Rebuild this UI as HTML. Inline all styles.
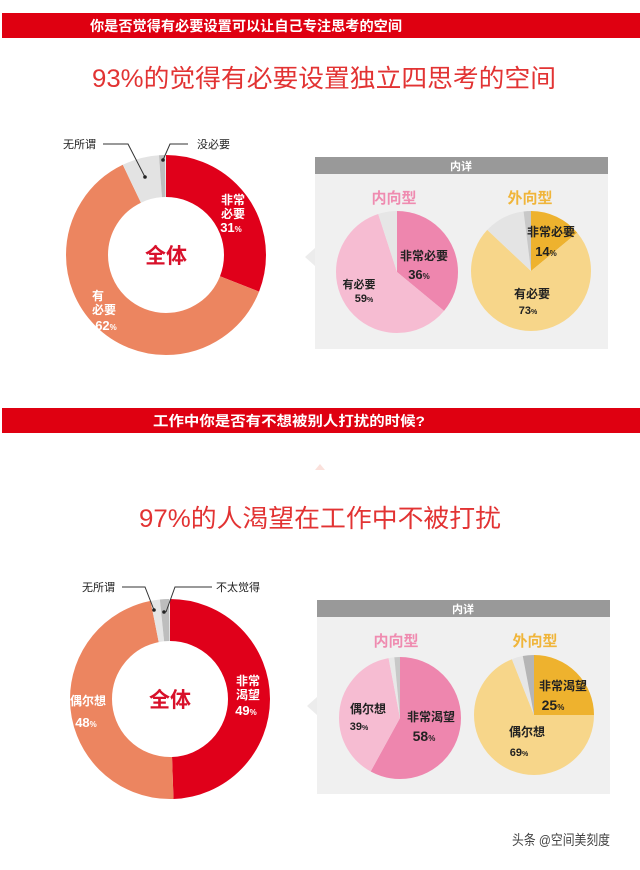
<!DOCTYPE html>
<html><head><meta charset="utf-8"><style>
body{margin:0;width:640px;height:865px;background:#fff;overflow:hidden;font-family:"Liberation Sans","Noto Sans CJK SC",sans-serif}
svg text{font-family:"Liberation Sans","Noto Sans CJK SC",sans-serif}
</style></head><body>
<svg width="640" height="865" viewBox="0 0 640 865">
<!-- Section 1 -->
<rect x="2" y="13" width="638" height="25" fill="#df0011"/>
<text x="90" y="31" font-size="14" fill="#fff" font-weight="bold" textLength="312" lengthAdjust="spacingAndGlyphs">你是否觉得有必要设置可以让自己专注思考的空间</text>
<text x="92" y="87" font-size="25" fill="#e23333" textLength="464" lengthAdjust="spacingAndGlyphs">93%的觉得有必要设置独立四思考的空间</text>

<g transform="rotate(-90 166 255)" fill="none" stroke-width="42">
<circle cx="166" cy="255" r="79" pathLength="100" stroke="#e0001a" stroke-dasharray="31 100" stroke-dashoffset="0"/>
<circle cx="166" cy="255" r="79" pathLength="100" stroke="#ec8560" stroke-dasharray="62 100" stroke-dashoffset="-31"/>
<circle cx="166" cy="255" r="79" pathLength="100" stroke="#e3e3e3" stroke-dasharray="6 100" stroke-dashoffset="-93"/>
<circle cx="166" cy="255" r="79" pathLength="100" stroke="#bdbdbd" stroke-dasharray="1 100" stroke-dashoffset="-99"/>
</g>
<text x="166" y="263" font-size="21" font-weight="bold" fill="#d8102a" text-anchor="middle">全体</text>
<g fill="#fff" font-weight="bold" font-size="12" text-anchor="middle">
<text x="233" y="204">非常</text><text x="233" y="218">必要</text><text x="231" y="232" font-size="13">31<tspan font-size="8">%</tspan></text>
<text x="98" y="300">有</text><text x="104" y="314">必要</text><text x="106" y="330" font-size="13">62<tspan font-size="8">%</tspan></text>
</g>
<text x="63" y="148" font-size="11" fill="#222">无所谓</text>
<text x="197" y="148" font-size="11" fill="#222">没必要</text>
<polyline points="103,144 128,144 145,177" fill="none" stroke="#333" stroke-width="1"/>
<polyline points="188,144 170,144 163,160" fill="none" stroke="#333" stroke-width="1"/>
<circle cx="145" cy="177" r="1.8" fill="#222"/><circle cx="163" cy="160" r="1.8" fill="#222"/>

<polygon points="305,257 315,248 315,266" fill="#ececec"/>
<rect x="315" y="174" width="293" height="175" fill="#f0f0f0"/>
<rect x="315" y="157" width="293" height="17" fill="#999"/>
<text x="461" y="170" font-size="11" fill="#fff" text-anchor="middle" font-weight="bold">内详</text>
<text x="394" y="203" font-size="15" fill="#ef8bb0" font-weight="bold" text-anchor="middle">内向型</text>
<text x="530" y="203" font-size="15" fill="#f0b53a" font-weight="bold" text-anchor="middle">外向型</text>
<g transform="rotate(-90 397 272)" fill="none" stroke-width="61">
<circle cx="397" cy="272" r="30.5" pathLength="100" stroke="#ee86ae" stroke-dasharray="36 100"/>
<circle cx="397" cy="272" r="30.5" pathLength="100" stroke="#f6bcd2" stroke-dasharray="59 100" stroke-dashoffset="-36"/>
<circle cx="397" cy="272" r="30.5" pathLength="100" stroke="#e6e6e6" stroke-dasharray="5 100" stroke-dashoffset="-95"/>
</g>
<g transform="rotate(-90 531 271)" fill="none" stroke-width="60">
<circle cx="531" cy="271" r="30" pathLength="100" stroke="#eeb22e" stroke-dasharray="14 100"/>
<circle cx="531" cy="271" r="30" pathLength="100" stroke="#f7d68a" stroke-dasharray="73 100" stroke-dashoffset="-14"/>
<circle cx="531" cy="271" r="30" pathLength="100" stroke="#e4e4e4" stroke-dasharray="11 100" stroke-dashoffset="-87"/>
<circle cx="531" cy="271" r="30" pathLength="100" stroke="#c8c8c8" stroke-dasharray="2 100" stroke-dashoffset="-98"/>
</g>
<g fill="#222" font-weight="bold" text-anchor="middle">
<text x="424" y="260" font-size="12">非常必要</text><text x="419" y="279" font-size="13">36<tspan font-size="8">%</tspan></text>
<text x="359" y="288" font-size="11">有必要</text><text x="364" y="302" font-size="11">59<tspan font-size="7">%</tspan></text>
<text x="551" y="236" font-size="12">非常必要</text><text x="546" y="256" font-size="13">14<tspan font-size="8">%</tspan></text>
<text x="532" y="298" font-size="12">有必要</text><text x="528" y="314" font-size="11">73<tspan font-size="7">%</tspan></text>
</g>

<!-- Section 2 -->
<rect x="2" y="408" width="638" height="25" fill="#df0011"/>
<text x="153" y="426" font-size="14" fill="#fff" font-weight="bold" textLength="272" lengthAdjust="spacingAndGlyphs">工作中你是否有不想被别人打扰的时候?</text>
<polygon points="320,464 325,470 315,470" fill="#fbe1dc"/>
<text x="139" y="527" font-size="25" fill="#e23333" textLength="362" lengthAdjust="spacingAndGlyphs">97%的人渴望在工作中不被打扰</text>

<g transform="rotate(-90 170 699)" fill="none" stroke-width="42">
<circle cx="170" cy="699" r="79" pathLength="100" stroke="#e0001a" stroke-dasharray="49.5 100"/>
<circle cx="170" cy="699" r="79" pathLength="100" stroke="#ec8560" stroke-dasharray="47.5 100" stroke-dashoffset="-49.5"/>
<circle cx="170" cy="699" r="79" pathLength="100" stroke="#e5e5e5" stroke-dasharray="1.5 100" stroke-dashoffset="-97"/>
<circle cx="170" cy="699" r="79" pathLength="100" stroke="#bdbdbd" stroke-dasharray="1.5 100" stroke-dashoffset="-98.5"/>
</g>
<text x="170" y="707" font-size="21" font-weight="bold" fill="#d8102a" text-anchor="middle">全体</text>
<g fill="#fff" font-weight="bold" font-size="12" text-anchor="middle">
<text x="248" y="685">非常</text><text x="248" y="699">渴望</text><text x="246" y="715" font-size="13">49<tspan font-size="8">%</tspan></text>
<text x="88" y="705">偶尔想</text><text x="86" y="727" font-size="13">48<tspan font-size="8">%</tspan></text>
</g>
<text x="82" y="591" font-size="11" fill="#222">无所谓</text>
<text x="216" y="591" font-size="11" fill="#222">不太觉得</text>
<polyline points="122,587 145,587 154,610" fill="none" stroke="#333" stroke-width="1"/>
<polyline points="212,587 175,587 166,612" fill="none" stroke="#333" stroke-width="1"/>
<circle cx="154" cy="610" r="1.8" fill="#222"/><circle cx="164" cy="612" r="1.8" fill="#222"/>

<polygon points="307,706 317,697 317,715" fill="#ececec"/>
<rect x="317" y="617" width="293" height="177" fill="#f0f0f0"/>
<rect x="317" y="600" width="293" height="17" fill="#999"/>
<text x="463" y="613" font-size="11" fill="#fff" text-anchor="middle" font-weight="bold">内详</text>
<text x="396" y="646" font-size="15" fill="#ef8bb0" font-weight="bold" text-anchor="middle">内向型</text>
<text x="535" y="646" font-size="15" fill="#f0b53a" font-weight="bold" text-anchor="middle">外向型</text>
<g transform="rotate(-90 400 718)" fill="none" stroke-width="61">
<circle cx="400" cy="718" r="30.5" pathLength="100" stroke="#ee86ae" stroke-dasharray="58 100"/>
<circle cx="400" cy="718" r="30.5" pathLength="100" stroke="#f6bcd2" stroke-dasharray="39 100" stroke-dashoffset="-58"/>
<circle cx="400" cy="718" r="30.5" pathLength="100" stroke="#e8e8e8" stroke-dasharray="1.5 100" stroke-dashoffset="-97"/>
<circle cx="400" cy="718" r="30.5" pathLength="100" stroke="#c8c8c8" stroke-dasharray="1.5 100" stroke-dashoffset="-98.5"/>
</g>
<g transform="rotate(-90 534 715)" fill="none" stroke-width="60">
<circle cx="534" cy="715" r="30" pathLength="100" stroke="#eeb22e" stroke-dasharray="25 100"/>
<circle cx="534" cy="715" r="30" pathLength="100" stroke="#f7d68a" stroke-dasharray="69 100" stroke-dashoffset="-25"/>
<circle cx="534" cy="715" r="30" pathLength="100" stroke="#e6e6e6" stroke-dasharray="3 100" stroke-dashoffset="-94"/>
<circle cx="534" cy="715" r="30" pathLength="100" stroke="#b5b5b5" stroke-dasharray="3 100" stroke-dashoffset="-97"/>
</g>
<g fill="#222" font-weight="bold" text-anchor="middle">
<text x="431" y="721" font-size="12">非常渴望</text><text x="424" y="741" font-size="14">58<tspan font-size="8">%</tspan></text>
<text x="368" y="713" font-size="12">偶尔想</text><text x="359" y="730" font-size="11">39<tspan font-size="7">%</tspan></text>
<text x="563" y="690" font-size="12">非常渴望</text><text x="553" y="710" font-size="14">25<tspan font-size="8">%</tspan></text>
<text x="527" y="736" font-size="12">偶尔想</text><text x="519" y="756" font-size="11">69<tspan font-size="7">%</tspan></text>
</g>

<text x="610" y="845" font-size="14" fill="#444" text-anchor="end" textLength="98" lengthAdjust="spacingAndGlyphs">头条 @空间美刻度</text>
</svg>
</body></html>
